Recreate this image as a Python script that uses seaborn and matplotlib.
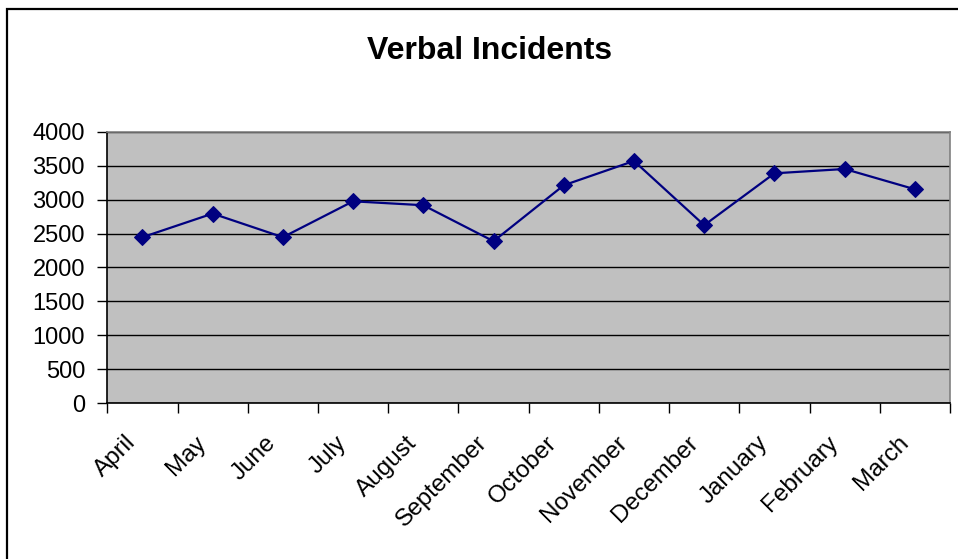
import matplotlib
matplotlib.use("Agg")
import matplotlib.pyplot as plt
from matplotlib.patches import Rectangle
from matplotlib.ticker import FixedLocator, NullFormatter
import seaborn as sns
import pandas as pd

months = ["April", "May", "June", "July", "August", "September",
          "October", "November", "December", "January", "February", "March"]
incidents = [2446, 2794, 2446, 2975, 2917, 2387,
             3211, 3569, 2623, 3387, 3451, 3152]
y_ticks = [0, 500, 1000, 1500, 2000, 2500, 3000, 3500, 4000]
title = "Verbal Incidents"

sns.set_style("white")
plt.rcParams["font.family"] = ["Liberation Sans", "DejaVu Sans"]
plt.rcParams["text.color"] = "black"
plt.rcParams["xtick.color"] = "black"
plt.rcParams["ytick.color"] = "black"
plt.rcParams["xtick.labelcolor"] = "black"
plt.rcParams["ytick.labelcolor"] = "black"

df = pd.DataFrame({"pos": range(len(months)), "month": months, "count": incidents})

W, H = 958, 559
fig = plt.figure(figsize=(W / 100, H / 100), dpi=100)
fig.patch.set_facecolor("white")
ax = fig.add_axes([107.3 / W, 1 - 403.3 / H, (950 - 107.3) / W, (403.3 - 131.7) / H])
ax.set_facecolor("#C0C0C0")

# horizontal gridlines
for v in y_ticks:
    ax.axhline(v, color="black", lw=1.0, zorder=1)

sns.lineplot(data=df, x="pos", y="count", ax=ax, color="#000080", lw=1.6,
             marker="D", markersize=8.5, markeredgecolor="#000080",
             markerfacecolor="#000080", zorder=3)

ax.set_xlim(-0.5, len(months) - 0.5)
ax.set_ylim(0, 4000)
ax.set_yticks(y_ticks)
ax.set_yticklabels([str(v) for v in y_ticks])
ax.set_xlabel("")
ax.set_ylabel("")

# slanted category labels (anchored a little left of each centre),
# tick marks on the category boundaries
ax.set_xticks([i - 0.14 for i in range(len(months))])
ax.set_xticklabels(months, rotation=45, ha="right", va="center",
                   rotation_mode="anchor")
ax.xaxis.set_minor_locator(FixedLocator([i - 0.5 for i in range(len(months) + 1)]))
ax.xaxis.set_minor_formatter(NullFormatter())
ax.tick_params(axis="x", which="major", length=0, pad=26, labelsize=17.5)
ax.tick_params(axis="x", which="minor", length=7, width=1, color="black",
               direction="out", bottom=True)
ax.tick_params(axis="y", length=7, width=1, color="black", direction="out",
               left=True, pad=9, labelsize=17)

for side in ["left", "bottom"]:
    ax.spines[side].set_color("black")
    ax.spines[side].set_linewidth(1.2)
for side in ["top", "right"]:
    ax.spines[side].set_color("#808080")
    ax.spines[side].set_linewidth(1.2)

fig.text(490 / W, 1 - 51 / H, title, ha="center", va="center",
         fontsize=23, fontweight="bold", color="black")

# outer chart frame
fig.patches.append(Rectangle((7 / W, -0.2), 1.2, 1 - 9 / H + 0.2,
                             transform=fig.transFigure, fill=False,
                             edgecolor="black", lw=1.6))

fig.savefig("out.png", dpi=100)
